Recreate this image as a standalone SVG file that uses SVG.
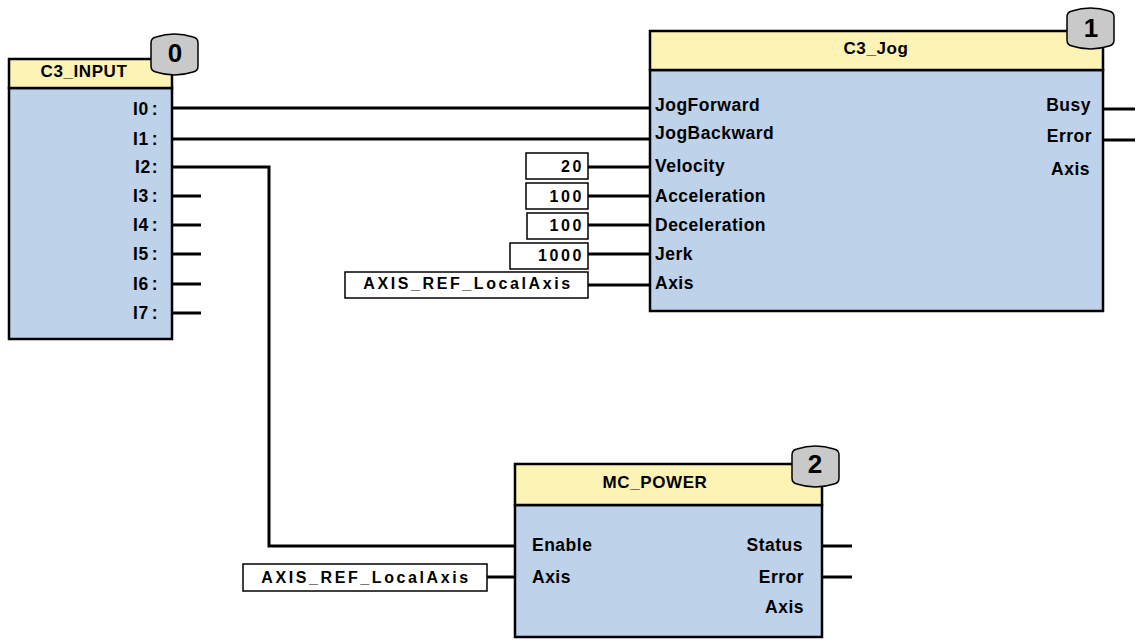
<svg xmlns="http://www.w3.org/2000/svg" width="1138" height="640" viewBox="0 0 1138 640">
<style>
.hdr{fill:#fcf3b5;stroke:#000;stroke-width:2.5}
.body{fill:#bed2ea;stroke:#000;stroke-width:2.5}
.badge{fill:#c9c9c9;stroke:#000;stroke-width:1.5}
.bnum{font-family:"Liberation Sans",Arial,sans-serif;font-weight:bold;font-size:26px;text-anchor:middle;fill:#000}
.title{font-family:"Liberation Sans",Arial,sans-serif;font-weight:bold;font-size:17px;text-anchor:middle;fill:#000;letter-spacing:0.6px}
.lbl{font-family:"Liberation Sans",Arial,sans-serif;font-weight:bold;font-size:17.5px;fill:#000;letter-spacing:0.5px}
.r{text-anchor:end}
.cst{fill:#fff;stroke:#000;stroke-width:1.5}
.ctxt{font-family:"Liberation Sans",Arial,sans-serif;font-weight:bold;font-size:16px;fill:#000;letter-spacing:2.6px}
.wire{fill:none;stroke:#000;stroke-width:3}
</style>
<defs>
<path id="badgeShape" d="M5,4 Q23.5,-2 42,4 Q47,5 47,10 L47,33 Q47,38 42,39 Q23.5,45 5,39 Q0,38 0,33 L0,10 Q0,5 5,4 Z"/>
</defs>

<g id="connectors">
<path class="wire" d="M172,108 H650"/>
<path class="wire" d="M172,139 H650"/>
<path class="wire" d="M172,167 H269 V546 H515"/>
<path class="wire" d="M172,196 H201"/>
<path class="wire" d="M172,225 H201"/>
<path class="wire" d="M172,254 H201"/>
<path class="wire" d="M172,284 H201"/>
<path class="wire" d="M172,313 H201"/>
<path class="wire" d="M588,167 H650"/>
<path class="wire" d="M588,196 H650"/>
<path class="wire" d="M588,225 H650"/>
<path class="wire" d="M588,254 H650"/>
<path class="wire" d="M588,285 H650"/>
<path class="wire" d="M1103,109 H1135"/>
<path class="wire" d="M1103,140 H1135"/>
<path class="wire" d="M487,577 H515"/>
<path class="wire" d="M822,546 H852"/>
<path class="wire" d="M822,577 H852"/>
</g>

<g id="node0">
<rect class="body" x="9" y="88" width="163" height="251"/>
<rect class="hdr" x="9" y="59" width="163" height="29"/>
<text class="title" x="84" y="77">C3_INPUT</text>
<use href="#badgeShape" class="badge" transform="translate(151,33)"/>
<text class="bnum" x="175" y="62">0</text>
<text class="lbl r" x="158" y="115">I0<tspan dx="3">:</tspan></text>
<text class="lbl r" x="158" y="145">I1<tspan dx="3">:</tspan></text>
<text class="lbl r" x="158" y="173">I2<tspan dx="1">:</tspan></text>
<text class="lbl r" x="158" y="202">I3<tspan dx="3">:</tspan></text>
<text class="lbl r" x="158" y="231">I4<tspan dx="3">:</tspan></text>
<text class="lbl r" x="158" y="260">I5<tspan dx="3">:</tspan></text>
<text class="lbl r" x="158" y="290">I6<tspan dx="3">:</tspan></text>
<text class="lbl r" x="158" y="319">I7<tspan dx="3">:</tspan></text>
</g>

<g id="node1">
<rect class="body" x="650" y="70" width="453" height="241"/>
<rect class="hdr" x="650" y="31" width="453" height="39"/>
<text class="title" x="876" y="54">C3_Jog</text>
<use href="#badgeShape" class="badge" transform="translate(1067,7)"/>
<text class="bnum" x="1091" y="37">1</text>
<text class="lbl" x="655" y="111">JogForward</text>
<text class="lbl" x="655" y="139">JogBackward</text>
<text class="lbl" x="655" y="172">Velocity</text>
<text class="lbl" x="655" y="202">Acceleration</text>
<text class="lbl" x="655" y="231">Deceleration</text>
<text class="lbl" x="655" y="260">Jerk</text>
<text class="lbl" x="655" y="289">Axis</text>
<text class="lbl r" x="1091" y="111">Busy</text>
<text class="lbl r" x="1092" y="142">Error</text>
<text class="lbl r" x="1090" y="175">Axis</text>
</g>

<g id="const20">
<rect class="cst" x="526" y="153" width="62" height="26"/>
<text class="ctxt r" x="584" y="172">20</text>
</g>
<g id="const100a">
<rect class="cst" x="526" y="183" width="62" height="26"/>
<text class="ctxt r" x="584" y="202">100</text>
</g>
<g id="const100b">
<rect class="cst" x="527" y="213" width="61" height="26"/>
<text class="ctxt r" x="584" y="231">100</text>
</g>
<g id="const1000">
<rect class="cst" x="510" y="243" width="78" height="26"/>
<text class="ctxt r" x="584" y="261">1000</text>
</g>
<g id="constAxis1">
<rect class="cst" x="345" y="272" width="243" height="26"/>
<text class="ctxt" x="468" y="289" text-anchor="middle">AXIS_REF_LocalAxis</text>
</g>

<g id="node2">
<rect class="body" x="515" y="505" width="307" height="132"/>
<rect class="hdr" x="515" y="464" width="307" height="41"/>
<text class="title" x="655" y="488">MC_POWER</text>
<use href="#badgeShape" class="badge" transform="translate(792,445)"/>
<text class="bnum" x="815" y="473">2</text>
<text class="lbl" x="532" y="551">Enable</text>
<text class="lbl" x="532" y="583">Axis</text>
<text class="lbl r" x="803" y="551">Status</text>
<text class="lbl r" x="804" y="583">Error</text>
<text class="lbl r" x="804" y="613">Axis</text>
</g>

<g id="constAxis2">
<rect class="cst" x="243" y="564" width="244" height="27"/>
<text class="ctxt" x="366" y="583" text-anchor="middle">AXIS_REF_LocalAxis</text>
</g>
</svg>
